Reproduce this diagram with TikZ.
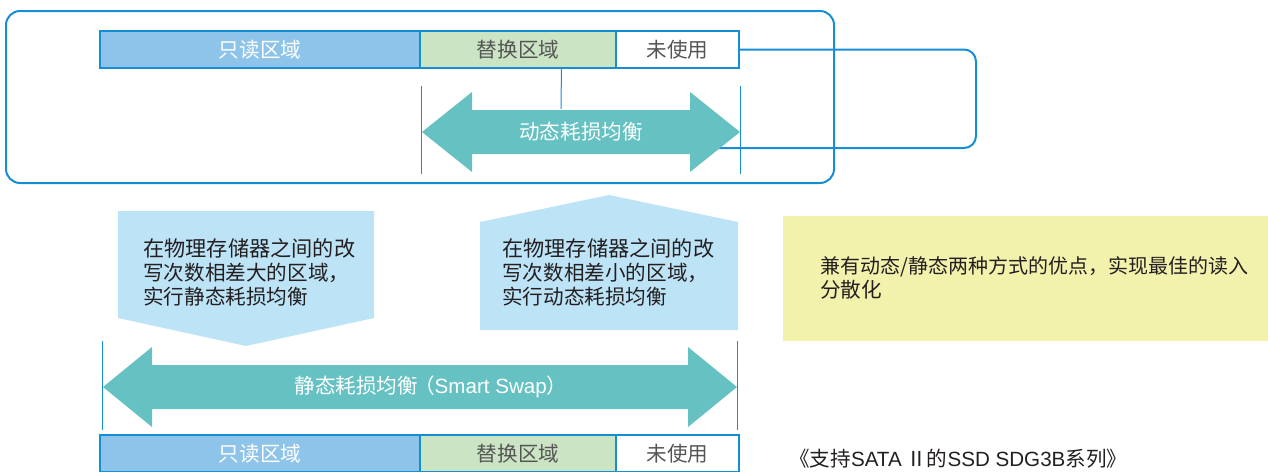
\documentclass[tikz,border=0pt]{standalone}
\usepackage{fontspec}
\setmainfont{Noto Sans CJK SC}
\newfontfamily\latn{Liberation Sans}
\usetikzlibrary{calc}
\definecolor{lineblue}{RGB}{22,142,214}
\definecolor{rofill}{RGB}{142,196,234}
\definecolor{repfill}{RGB}{203,228,196}
\definecolor{teal}{RGB}{102,194,194}
\definecolor{penta}{RGB}{189,227,247}
\definecolor{yel}{RGB}{243,242,173}
\definecolor{greytext}{RGB}{85,85,85}
\definecolor{darktext}{RGB}{35,31,32}
\newcommand\fsA{\fontsize{20.6}{24}\selectfont}
\begin{document}
\begin{tikzpicture}[x=1pt,y=-1pt,
  cell/.style={draw=lineblue, line width=1.5pt, minimum height=37, inner sep=0, font=\fsA},
  frame/.style={draw=lineblue, line width=2pt, rounded corners=14, inner sep=0},
  guide/.style={draw=lineblue, line width=1pt},
  conn/.style={draw=lineblue, line width=2pt},
  arrowshape/.style={fill=teal},
  pentashape/.style={fill=penta},
  arrowlabel/.style={text=white, font=\fsA, inner sep=0},
  bodytext/.style={text=darktext, font=\fsA, align=left, inner sep=0}]
\useasboundingbox (0,0) rectangle (1268,471);

% ---------- upper frame ----------
\node[frame, minimum width=828, minimum height=172] (outer) at (420,97) {};

\node[cell, fill=rofill, minimum width=320, text=white] (ro1) at (260,49.5) {只读区域};
\node[cell, fill=repfill, minimum width=196, text=greytext] (rep1) at (518,49.5) {替换区域};
\node[cell, fill=white, minimum width=123, text=greytext] (un1) at (677.5,49.5) {未使用};

% guide lines
\coordinate (g1a) at (421,86); \coordinate (g1b) at (421,174);
\coordinate (g2a) at (740,86); \coordinate (g2b) at (740,174);
\draw[guide] (g1a) -- (g1b);
\draw[guide] (g2a) -- (g2b);

% connectors
\coordinate (dynTop) at (561,109);
\coordinate (dynEnd) at (718,148);
\draw[guide] ($(rep1.south west)!0.72!(rep1.south east)$) -- (dynTop);
\draw[conn, rounded corners=12] (un1.east) -| (976,148) -- (dynEnd);

% dynamic arrow
\fill[arrowshape] (422,132) -- (472,92) -- (472,110) -- (690,110) -- (690,92) -- (740,132)
  -- (690,172) -- (690,154) -- (472,154) -- (472,172) -- cycle;
\node[arrowlabel] (dyn) at (581,132) {动态耗损均衡};

% ---------- pentagons ----------
\fill[pentashape] (118,211) -- (374,211) -- (374,318) -- (246,346) -- (118,318) -- cycle;
\node[bodytext, anchor=west] (ptL) at (143,272) {\fontsize{21.2}{25.5}\selectfont 在物理存储器之间的改\\写次数相差大的区域，\\实行静态耗损均衡};

\fill[pentashape] (480,222) -- (609,195) -- (738,222) -- (738,330) -- (480,330) -- cycle;
\node[bodytext, anchor=west] (ptR) at (502,272) {\fontsize{21.2}{25.5}\selectfont 在物理存储器之间的改\\写次数相差小的区域，\\实行动态耗损均衡};

% ---------- static arrow ----------
\coordinate (g3a) at (102,341); \coordinate (g3b) at (102,430);
\coordinate (g4a) at (737,341); \coordinate (g4b) at (737,430);
\draw[guide] (g3a) -- (g3b);
\draw[guide] (g4a) -- (g4b);
\fill[arrowshape] (103,387) -- (152,347) -- (152,365) -- (688,365) -- (688,347) -- (737,387)
  -- (688,427) -- (688,409) -- (152,409) -- (152,427) -- cycle;
\node[arrowlabel] (sta) at (431,387) {静态耗损均衡\kern-4pt（{\latn Smart Swap}）};

% ---------- lower bar ----------
\node[cell, fill=rofill, minimum width=320, text=white] (ro2) at (260,453.5) {只读区域};
\node[cell, fill=repfill, minimum width=196, text=greytext] (rep2) at (518,453.5) {替换区域};
\node[cell, fill=white, minimum width=123, text=greytext] (un2) at (677.5,453.5) {未使用};

% ---------- yellow note ----------
\node[fill=yel, minimum width=490, minimum height=125, anchor=north west, inner sep=0] (note) at (783,216) {};
\node[bodytext, anchor=west] (noteText) at (820,278) {\fontsize{20}{30}\selectfont 兼有动态/静态两种方式的优点，实现最佳的读入\\分散化};

% ---------- caption ----------
\node[text=darktext, font=\fsA, anchor=base west, inner sep=0] (cap) at (789,466) {《支持{\latn SATA} Ⅱ的{\latn SSD SDG3B}系列》};
\end{tikzpicture}
\end{document}
